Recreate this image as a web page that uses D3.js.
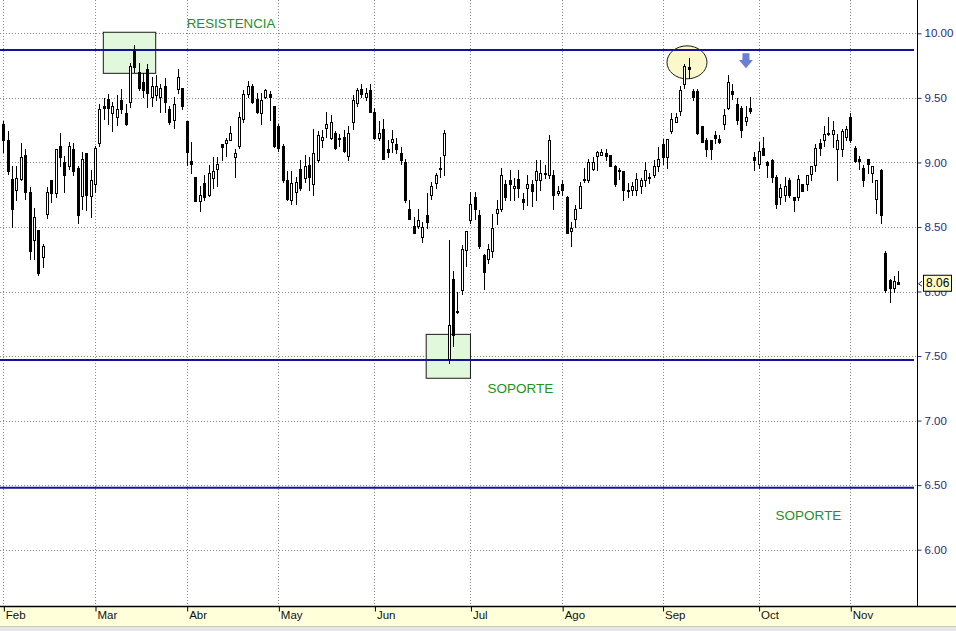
<!DOCTYPE html>
<html><head><meta charset="utf-8">
<script src="https://cdn.jsdelivr.net/npm/d3@7"></script>
<style>
html,body{margin:0;padding:0;background:#fff;}
svg{display:block;font-family:"Liberation Sans",Arial,sans-serif;}
</style></head>
<body>
<svg id="chart" width="956" height="631"></svg>
<script>
const months = ["Feb","Mar","Abr","May","Jun","Jul","Ago","Sep","Oct","Nov"];
const monthStart = [0,21,42,63,85,107,128,151,173,194];
const yTicks = [6.00,6.50,7.00,7.50,8.00,8.50,9.00,9.50,10.00];
const levels = [9.87, 7.47, 6.48];
const lastPrice = 8.06;

const open = [9.30,9.17,8.87,8.79,8.87,9.06,8.77,8.40,8.48,8.27,8.60,8.86,8.76,9.13,9.00,8.97,9.10,8.96,8.74,9.07,8.74,
8.83,9.15,9.44,9.49,9.38,9.35,9.48,9.38,9.47,9.86,9.70,9.62,9.72,9.51,9.52,9.51,9.59,9.41,9.33,9.57,9.58,
9.32,9.01,8.89,8.70,8.84,8.75,8.88,8.95,9.14,9.15,9.17,9.04,9.13,9.34,9.53,9.59,9.49,9.38,9.51,9.53,9.44,
9.28,9.13,8.86,8.71,8.77,8.95,8.88,8.98,8.83,9.02,9.17,9.27,9.19,9.23,9.18,9.20,9.05,9.31,9.46,9.57,9.51,9.56,
9.39,9.19,9.26,9.10,9.16,9.14,9.07,9.00,8.64,8.51,8.51,8.42,8.59,8.75,8.84,8.95,9.06,7.48,8.10,7.84,8.01,8.32,
8.55,8.73,8.59,8.28,8.25,8.31,8.61,8.64,8.83,8.86,8.80,8.87,8.72,8.80,8.83,8.86,8.86,8.91,8.90,8.90,8.76,
8.83,8.73,8.47,8.56,8.65,8.86,8.86,8.95,9.05,9.06,9.07,9.06,8.97,8.94,8.93,8.79,8.79,8.79,8.82,8.86,8.88,8.90,8.97,
9.14,9.04,9.24,9.31,9.40,9.61,9.74,9.55,9.55,9.28,9.17,9.17,9.21,9.18,9.30,9.42,9.55,9.45,9.42,9.32,9.42,9.04,
8.99,9.11,9.00,9.02,8.89,8.73,8.75,8.86,8.73,8.73,8.83,8.83,8.91,8.98,9.15,9.17,9.22,9.22,9.10,9.10,9.20,
9.35,9.11,9.03,8.96,9.03,8.92,8.72,8.94,8.30,8.09,8.03,8.07];
const high = [9.32,9.24,8.97,8.97,9.15,9.10,8.81,8.65,8.48,8.37,8.81,8.86,9.10,9.23,9.05,9.16,9.15,8.97,9.08,9.07,8.94,
9.13,9.45,9.50,9.53,9.47,9.52,9.57,9.45,9.77,9.91,9.77,9.69,9.76,9.66,9.68,9.61,9.65,9.44,9.51,9.72,9.58,
9.32,9.16,8.89,8.82,8.90,8.98,9.04,9.04,9.14,9.19,9.28,9.10,9.39,9.56,9.63,9.61,9.54,9.54,9.57,9.55,9.44,
9.30,9.14,8.93,8.93,8.89,9.02,9.06,9.04,9.26,9.24,9.25,9.39,9.37,9.24,9.22,9.25,9.28,9.52,9.58,9.61,9.58,9.61,
9.42,9.32,9.34,9.17,9.25,9.19,9.12,9.03,8.71,8.58,8.64,8.54,8.76,8.85,8.92,9.04,9.25,8.40,8.16,8.00,8.36,8.47,
8.77,8.77,8.63,8.29,8.37,8.60,8.71,8.96,8.86,8.94,8.88,8.94,8.76,8.90,8.86,9.02,9.02,8.98,9.21,8.94,8.82,
8.86,8.74,8.54,8.67,8.85,8.96,9.03,9.04,9.09,9.10,9.10,9.06,8.98,8.96,8.93,8.84,8.85,8.92,8.88,9.00,8.92,9.02,9.12,
9.18,9.18,9.38,9.38,9.59,9.76,9.81,9.57,9.57,9.28,9.19,9.17,9.24,9.21,9.41,9.68,9.61,9.50,9.44,9.44,9.51,9.08,
9.16,9.20,9.01,9.03,8.90,8.83,8.89,8.88,8.73,8.90,8.83,8.90,8.97,9.14,9.18,9.28,9.35,9.32,9.22,9.26,9.28,
9.38,9.13,9.05,8.98,9.03,8.97,8.86,8.95,8.31,8.10,8.12,8.16];
const low = [9.08,8.91,8.50,8.71,8.86,8.72,8.25,8.25,8.13,8.19,8.57,8.69,8.73,8.97,8.77,8.95,8.90,8.53,8.64,8.63,8.58,
8.77,9.13,9.34,9.30,9.24,9.29,9.38,9.29,9.43,9.70,9.56,9.51,9.43,9.44,9.48,9.39,9.39,9.30,9.27,9.54,9.41,
8.98,8.92,8.70,8.62,8.71,8.74,8.80,8.82,9.02,9.05,9.17,8.89,9.11,9.31,9.51,9.46,9.38,9.30,9.50,9.33,9.12,
9.09,8.85,8.71,8.68,8.68,8.79,8.85,8.79,8.75,9.00,9.12,9.20,9.18,9.10,9.13,9.08,9.02,9.26,9.44,9.51,9.48,9.39,
9.18,9.17,9.03,9.04,9.08,9.07,8.99,8.69,8.56,8.45,8.49,8.38,8.49,8.72,8.80,8.89,8.90,7.45,7.58,7.83,7.98,8.20,
8.53,8.56,8.34,8.02,8.22,8.27,8.52,8.62,8.71,8.71,8.71,8.73,8.64,8.67,8.66,8.71,8.79,8.88,8.88,8.64,8.75,
8.75,8.45,8.35,8.50,8.65,8.85,8.85,8.94,8.94,9.06,9.02,8.97,8.82,8.87,8.71,8.73,8.75,8.75,8.76,8.82,8.84,8.89,8.93,
8.99,8.96,9.23,9.31,9.37,9.58,9.65,9.48,9.22,9.16,9.05,9.03,9.15,9.15,9.26,9.41,9.49,9.30,9.20,9.29,9.38,8.94,
8.96,9.06,8.89,8.85,8.65,8.68,8.70,8.73,8.62,8.71,8.78,8.79,8.86,8.93,9.06,9.13,9.21,9.12,8.86,9.05,9.17,
9.16,9.00,8.95,8.82,8.92,8.85,8.61,8.53,8.00,7.92,8.00,8.06];
const close = [9.17,8.93,8.64,8.88,9.04,8.77,8.31,8.58,8.14,8.35,8.77,8.76,9.10,9.04,8.90,9.13,8.93,8.59,9.03,8.75,8.86,
9.11,9.41,9.42,9.42,9.44,9.41,9.41,9.30,9.75,9.74,9.58,9.56,9.54,9.59,9.59,9.58,9.47,9.31,9.45,9.66,9.44,
9.08,8.99,8.70,8.75,8.73,8.92,8.93,8.99,9.12,9.17,9.23,9.07,9.35,9.53,9.59,9.47,9.39,9.48,9.56,9.51,9.13,
9.11,8.86,8.72,8.84,8.85,8.80,8.97,8.89,9.07,9.21,9.20,9.30,9.31,9.11,9.19,9.09,9.23,9.48,9.56,9.53,9.54,9.39,
9.19,9.23,9.03,9.08,9.18,9.10,9.02,8.71,8.56,8.45,8.55,8.50,8.54,8.82,8.90,8.96,9.23,7.74,7.66,7.85,8.33,8.47,
8.68,8.64,8.35,8.15,8.33,8.49,8.64,8.90,8.73,8.83,8.82,8.80,8.69,8.83,8.78,8.93,8.92,8.92,9.17,8.75,8.78,
8.79,8.45,8.49,8.64,8.82,8.87,9.00,9.00,9.08,9.08,9.05,8.97,8.83,8.93,8.79,8.78,8.82,8.87,8.86,8.94,8.89,8.97,9.03,
9.04,9.18,9.34,9.35,9.56,9.75,9.72,9.51,9.23,9.16,9.10,9.10,9.19,9.16,9.37,9.62,9.53,9.33,9.25,9.35,9.40,9.02,
9.09,9.06,8.98,8.89,8.68,8.80,8.82,8.75,8.71,8.87,8.78,8.90,8.97,9.11,9.11,9.22,9.23,9.25,9.17,9.24,9.26,
9.17,9.01,9.01,8.86,8.99,8.97,8.86,8.59,8.01,8.03,8.08,8.06];

const W = 956, H = 631, axisX = 917, axisY = 606;
const svg = d3.select("#chart");
const n = close.length;
const x = d3.scaleLinear().domain([0, n - 1]).range([3.33, 898.3]);
const y = d3.scaleLinear().domain([6, 10]).range([549.7, 33.3]);

// background
svg.append("rect").attr("x",0).attr("y",0).attr("width",W).attr("height",H).attr("fill","#fff");

// grid
const grid = svg.append("g").attr("stroke","#8c8c8c").attr("stroke-dasharray","1,2").attr("shape-rendering","crispEdges");
yTicks.forEach(v => {
  const yy = Math.round(y(v)) + 0.5;
  grid.append("line").attr("x1",0).attr("x2",axisX).attr("y1",yy).attr("y2",yy);
});
monthStart.forEach(i => {
  const xx = Math.round(x(i)) + 0.5;
  grid.append("line").attr("x1",xx).attr("x2",xx).attr("y1",0).attr("y2",axisY);
});

// annotations (shapes)
const ann = svg.append("g");
ann.append("rect").attr("x", x(22.9)).attr("y", y(10.008))
  .attr("width", x(34.9) - x(22.9)).attr("height", y(9.69) - y(10.008))
  .attr("fill","#e2f8dc").attr("stroke","#1a1a1a").attr("stroke-width",1);
ann.append("rect").attr("x", x(96.86)).attr("y", y(7.668))
  .attr("width", x(107.0) - x(96.86)).attr("height", y(7.328) - y(7.668))
  .attr("fill","#e2f8dc").attr("stroke","#1a1a1a").attr("stroke-width",1);
ann.append("ellipse").attr("cx", x(156.6)).attr("cy", y(9.775)).attr("rx",20).attr("ry",16.5)
  .attr("fill","#fbf8cc").attr("stroke","#1a1a1a").attr("stroke-width",1);

// support / resistance lines
levels.forEach(v => {
  svg.append("line").attr("x1",0).attr("x2",axisX - 3).attr("y1",y(v)).attr("y2",y(v))
    .attr("stroke","#12129a").attr("stroke-width",2);
});

// arrow
{
  const ax = x(170.1), yt = y(9.845), yb = y(9.729);
  const mid = yt + (yb - yt) * 0.45;
  svg.append("path")
    .attr("d", `M${ax-3.5},${yt} L${ax+3.5},${yt} L${ax+3.5},${mid} L${ax+7},${mid} L${ax},${yb} L${ax-7},${mid} L${ax-3.5},${mid} Z`)
    .attr("fill","#6a7fd6");
}

// candles
const cg = svg.append("g").attr("shape-rendering","crispEdges");
for (let i = 0; i < n; i++) {
  const cx = Math.round(x(i));
  const o = open[i], c = close[i], h = high[i], l = low[i];
  cg.append("line").attr("x1",cx+0.5).attr("x2",cx+0.5)
    .attr("y1",Math.round(y(h))).attr("y2",Math.round(y(l)) + 1)
    .attr("stroke","#000").attr("stroke-width",1);
  const top = Math.round(y(Math.max(o,c))), bot = Math.round(y(Math.min(o,c)));
  cg.append("rect").attr("x",cx-0.5).attr("y",top+0.5)
    .attr("width",2).attr("height",Math.max(bot-top,1))
    .attr("fill", c >= o ? "#fff" : "#000").attr("stroke","#000").attr("stroke-width",1);
}

// text annotations
const green = "#239123";
svg.append("text").attr("x", x(42)).attr("y", y(10.068)).attr("fill",green)
  .attr("font-size","13.3px").attr("dominant-baseline","middle").text("RESISTENCIA");
svg.append("text").attr("x", x(110.9)).attr("y", y(7.24)).attr("fill",green)
  .attr("font-size","13.5px").attr("dominant-baseline","middle").text("SOPORTE");
svg.append("text").attr("x", x(176.9)).attr("y", y(6.255)).attr("fill",green)
  .attr("font-size","13.5px").attr("dominant-baseline","middle").text("SOPORTE");

// bottom band
svg.append("rect").attr("x",0).attr("y",axisY).attr("width",W).attr("height",H-axisY).attr("fill","#ffffd9");
svg.append("rect").attr("x",0).attr("y",626).attr("width",W).attr("height",5).attr("fill","#e6e6e6");
svg.append("line").attr("x1",0).attr("x2",W).attr("y1",626.5).attr("y2",626.5).attr("stroke","#c8c8c8");

// right axis
const ra = svg.append("g").attr("transform",`translate(${axisX+0.5},0)`)
  .call(d3.axisRight(y).tickValues(yTicks).tickFormat(d3.format(".2f")).tickSize(4).tickPadding(3));
ra.select(".domain").remove();
ra.selectAll(".tick line").attr("stroke","#2a2a7a");
ra.selectAll(".tick text").attr("fill","#2a2a7a").attr("font-size","11.5px")
  .attr("font-family","'Liberation Sans',Arial,sans-serif");
svg.append("line").attr("x1",axisX+0.5).attr("x2",axisX+0.5).attr("y1",0).attr("y2",axisY)
  .attr("stroke","#000").attr("stroke-width",1);

// bottom axis
const ba = svg.append("g").attr("transform",`translate(0,${axisY+0.5})`)
  .call(d3.axisBottom(x).tickValues(monthStart).tickFormat((d,i)=>months[i]).tickSize(5).tickPadding(0));
ba.select(".domain").remove();
ba.selectAll(".tick line").attr("stroke","#000").attr("transform","translate(0.5,0)");
ba.selectAll(".tick text").attr("fill","#111").attr("font-size","11.5px").attr("text-anchor","start")
  .attr("dx","2px").attr("dy","0.35em").attr("y",8)
  .attr("font-family","'Liberation Sans Narrow','Arial Narrow','Liberation Sans',Arial,sans-serif");
svg.append("line").attr("x1",0).attr("x2",W).attr("y1",axisY+0.5).attr("y2",axisY+0.5)
  .attr("stroke","#000").attr("stroke-width",1.3);

// last price tag
{
  const py = y(lastPrice);
  svg.append("path").attr("d",`M${axisX+1.5},${py} L${axisX+5},${py-2.5} M${axisX+1.5},${py} L${axisX+5},${py+2.5}`)
    .attr("stroke","#333").attr("stroke-width",1).attr("fill","none");
  svg.append("rect").attr("x",923.5).attr("y",py-8.5).attr("width",28).attr("height",16)
    .attr("fill","#ffffc4").attr("stroke","#000").attr("stroke-width",1);
  svg.append("text").attr("x",926).attr("y",py).attr("dominant-baseline","middle")
    .attr("font-size","12px").attr("fill","#000").text(d3.format(".2f")(lastPrice));
}
</script>
</body></html>
